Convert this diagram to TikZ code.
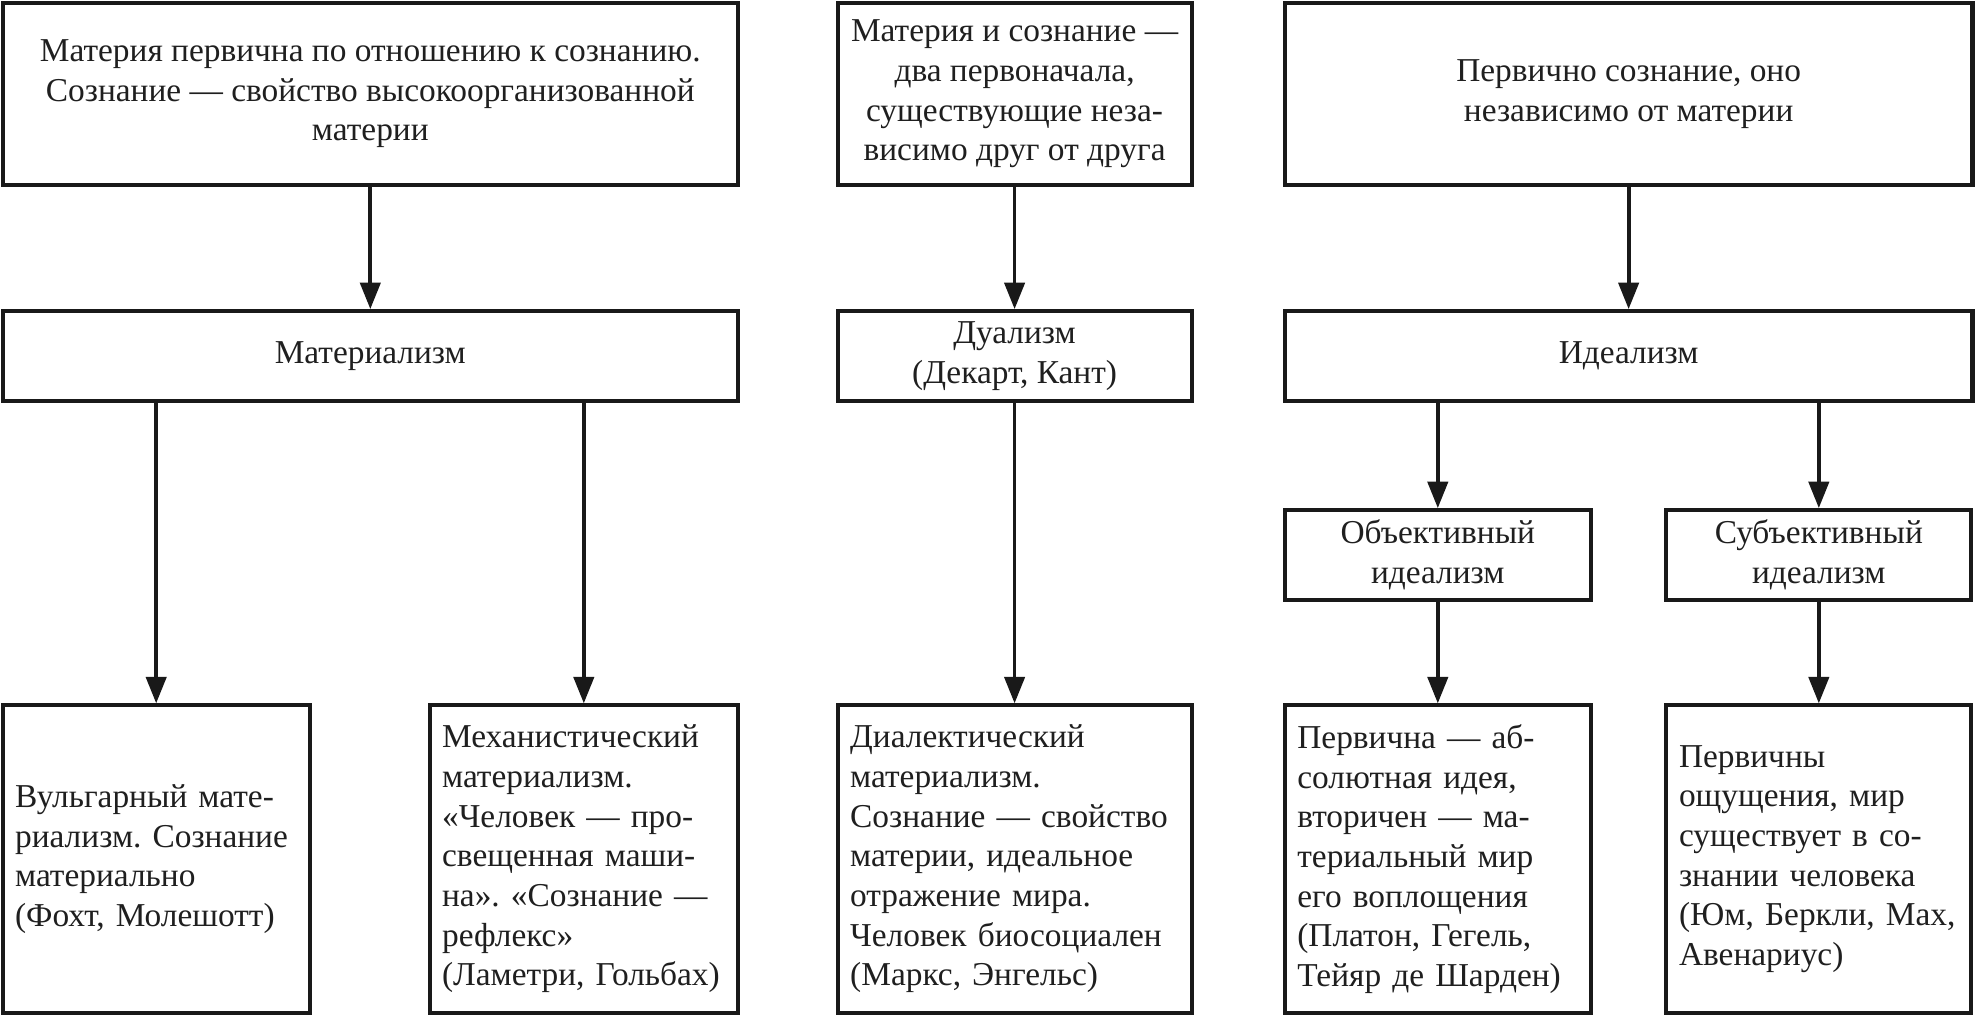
\documentclass[tikz,border=0pt]{standalone}
\usepackage{fontspec}
\setmainfont{Liberation Serif}
\usetikzlibrary{arrows.meta}
\frenchspacing
\begin{document}
\begin{tikzpicture}[x=1pt,y=-1pt,
  box/.style={draw=black!90, line width=3.2pt, inner sep=0pt, align=center,
    font=\fontsize{26.5}{31.5}\selectfont\frenchspacing, text=black!88},
  lbox/.style={box, align=left, inner xsep=10pt, inner ysep=0pt},
  arr/.style={draw=black!90, line width=3pt, -{Triangle[length=21pt,width=16pt]}}
]
\useasboundingbox[fill=white] (0,0) rectangle (1568,806);
% top row
\node[box, minimum width=584pt, minimum height=145pt] (t1) at (294,74.5)
  {Материя первична по отношению к сознанию.\\Сознание — свойство высокоорганизованной\\материи};
\node[box, minimum width=281pt, minimum height=145pt] (t2) at (805.5,74.5)
  {Материя и сознание —\\два первоначала,\\существующие неза-\\висимо друг от друга};
\node[box, minimum width=546pt, minimum height=145pt] (t3) at (1293,74.5)
  {Первично сознание, оно\\независимо от материи};
% middle row
\node[box, minimum width=584pt, minimum height=71pt] (m1) at (294,282.5) {Материализм};
\node[box, minimum width=281pt, minimum height=71pt] (m2) at (805.5,282.5) {Дуализм\\(Декарт, Кант)};
\node[box, minimum width=546pt, minimum height=71pt] (m3) at (1293,282.5) {Идеализм};
% sub row
\node[box, minimum width=243pt, minimum height=71pt] (s1) at (1141.5,440.5) {Объективный\\идеализм};
\node[box, minimum width=242pt, minimum height=71pt] (s2) at (1444,440.5) {Субъективный\\идеализм};
% bottom row
\node[lbox, text width=224pt, minimum height=244pt] (b1) at (124,682)
  {Вульгарный мате-\\риализм. Сознание\\материально\\(Фохт, Молешотт)};
\node[lbox, text width=225pt, minimum height=244pt] (b2) at (463.5,682)
  {Механистический\\материализм.\\«Человек — про-\\свещенная маши-\\на». «Сознание —\\рефлекс»\\(Ламетри, Гольбах)};
\node[lbox, text width=261pt, minimum height=244pt] (b3) at (805.5,682)
  {Диалектический\\материализм.\\Сознание — свойство\\материи, идеальное\\отражение мира.\\Человек биосоциален\\(Маркс, Энгельс)};
\node[lbox, text width=223pt, minimum height=244pt] (b4) at (1141.5,682)
  {Первична — аб-\\солютная идея,\\вторичен — ма-\\териальный мир\\его воплощения\\(Платон, Гегель,\\Тейяр де Шарден)};
\node[lbox, text width=222pt, minimum height=244pt] (b5) at (1444,682)
  {Первичны\\ощущения, мир\\существует в со-\\знании человека\\(Юм, Беркли, Мах,\\Авенариус)};
% connectors
\draw[arr] (t1.south) -- (m1.north);
\draw[arr] (t2.south) -- (m2.north);
\draw[arr] (t3.south) -- (m3.north);
\draw[arr] (m1.south -| b1.north) -- (b1.north);
\draw[arr] (m1.south -| b2.north) -- (b2.north);
\draw[arr] (m2.south) -- (b3.north);
\draw[arr] (m3.south -| s1.north) -- (s1.north);
\draw[arr] (m3.south -| s2.north) -- (s2.north);
\draw[arr] (s1.south) -- (b4.north);
\draw[arr] (s2.south) -- (b5.north);
\end{tikzpicture}
\end{document}
